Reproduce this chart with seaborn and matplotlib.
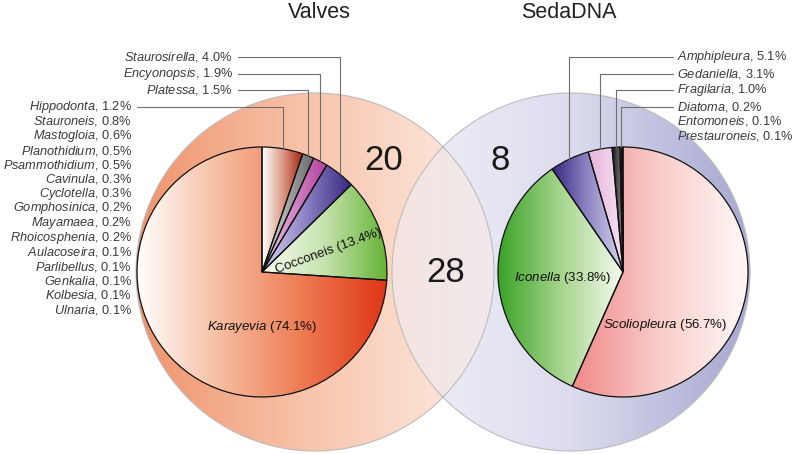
import numpy as np
import matplotlib
matplotlib.use("Agg")
import matplotlib.pyplot as plt
from matplotlib.patches import Circle
import seaborn as sns

# ---- data ----
valves_names = ["Karayevia", "Cocconeis", "Staurosirella", "Encyonopsis", "Platessa", "Hippodonta"]
valves_pct = [74.1, 13.4, 4.0, 1.9, 1.5, 1.2]
minor_names = ["Stauroneis", "Mastogloia", "Planothidium", "Psammothidium", "Cavinula",
               "Cyclotella", "Gomphosinica", "Mayamaea", "Rhoicosphenia", "Aulacoseira",
               "Parlibellus", "Genkalia", "Kolbesia", "Ulnaria"]
minor_pct = [0.8, 0.6, 0.5, 0.5, 0.3, 0.3, 0.2, 0.2, 0.2, 0.1, 0.1, 0.1, 0.1, 0.1]

dna_names = ["Scoliopleura", "Iconella", "Amphipleura", "Gedaniella", "Fragilaria",
             "Diatoma", "Entomoneis", "Prestauroneis"]
dna_pct = [56.7, 33.8, 5.1, 3.1, 1.0, 0.2, 0.1, 0.1]

set_titles = ["Valves", "SedaDNA"]
venn_counts = [20, 28, 8]  # valves only, shared, sedaDNA only

# gradient colours (left -> right) per wedge
valves_grad = [["#ffffff", "#f6bca0", "#ee7a52", "#df3616"],
               ["#f6fbf2", "#c6e3ae", "#66b436"],
               ["#d6d2ee", "#8a80c2", "#37257f"],
               ["#f0cdea", "#b03f9c"],
               ["#e2e2e2", "#686868"],
               ["#ffffff", "#dc9c88", "#a4220e"]]
dna_grad = [["#f08888", "#f9cdca", "#fff8f6"],
            ["#3aa228", "#a6d58c", "#f4faf0"],
            ["#382682", "#8e86c4", "#d8d4ee"],
            ["#e6b2da", "#f6e2f2"],
            ["#141414", "#8a8a8a"],
            ["#ffffff", "#e6e6e6"],
            ["#d8d8d8", "#ffffff"],
            ["#ffffff", "#eeeeee"]]

sns.set_theme(style="white")
plt.rcParams["font.family"] = ["Liberation Sans", "DejaVu Sans"]
plt.rcParams["mathtext.fontset"] = "custom"
plt.rcParams["mathtext.rm"] = "Liberation Sans"
plt.rcParams["mathtext.it"] = "Liberation Sans:italic"

W, H = 796, 454
fig = plt.figure(figsize=(W / 100, H / 100), dpi=100)
ax = fig.add_axes([0, 0, 1, 1])


def gradient_fill(patch, colors, bbox, alpha=1.0, z=1):
    cmap = sns.blend_palette(colors, as_cmap=True)
    x0, y0, x1, y1 = bbox
    img = ax.imshow(np.linspace(0, 1, 256).reshape(1, -1), cmap=cmap,
                    extent=(x0, x1, y0, y1), aspect="auto",
                    interpolation="bilinear", alpha=alpha, zorder=z)
    img.set_clip_path(patch)


def ytop(y):
    return H - y


# ---- venn circles ----
R_BIG = 179
cl = (315, 182)
cr = (571, 182)
circ_l = Circle(cl, R_BIG, facecolor="none", edgecolor="none")
circ_r = Circle(cr, R_BIG, facecolor="none", edgecolor="none")
ax.add_patch(circ_l)
ax.add_patch(circ_r)
bb_l = (cl[0] - R_BIG, cl[1] - R_BIG, cl[0] + R_BIG, cl[1] + R_BIG)
bb_r = (cr[0] - R_BIG, cr[1] - R_BIG, cr[0] + R_BIG, cr[1] + R_BIG)
left_circ_cols = ["#ef936b", "#f8c6ae", "#fdeee6"]
gradient_fill(circ_l, left_circ_cols, bb_l, z=1)
gradient_fill(circ_r, ["#f1f1f9", "#dcdcee", "#a7a7d2"], bb_r, z=2)
gradient_fill(circ_l, left_circ_cols, bb_l, alpha=0.5, z=2.5)
for c in (cl, cr):
    ax.add_patch(Circle(c, R_BIG, facecolor="none", edgecolor="#bcbcbc", lw=0.8, zorder=3))

# ---- pies ----
R_PIE = 125
pc_l = (262, 182)
pc_r = (623, 182)
# Hippodonta is drawn together with the remaining minor genera in one wedge
valves_vals = valves_pct[:-1] + [valves_pct[-1] + sum(minor_pct)]
wedges_v, _ = ax.pie(valves_vals, radius=R_PIE, center=pc_l, startangle=90, counterclock=True,
                     wedgeprops=dict(facecolor="none", edgecolor="#111111", linewidth=0.9, zorder=5))
wedges_d, _ = ax.pie(dna_pct, radius=R_PIE, center=pc_r, startangle=90, counterclock=False,
                     wedgeprops=dict(facecolor="none", edgecolor="#111111", linewidth=0.9, zorder=5))
for w, cols in zip(wedges_v, valves_grad):
    e = w.get_path().get_extents()
    gradient_fill(w, cols, (e.x0, e.y0, e.x1, e.y1), z=4)
for w, cols in zip(wedges_d, dna_grad):
    e = w.get_path().get_extents()
    gradient_fill(w, cols, (e.x0, e.y0, e.x1, e.y1), z=4)


def edge_point(w, center):
    mid = np.deg2rad((w.theta1 + w.theta2) / 2)
    return center[0] + R_PIE * np.cos(mid), center[1] + R_PIE * np.sin(mid)


lab_kw = dict(fontsize=9.2, color="#3a3a3a", va="center", zorder=7)
line_kw = dict(color="#6e6e6e", lw=0.8, zorder=6)

# left labels with leaders (Staurosirella .. Hippodonta)
left_y = [57, 74, 90, 107]
left_x = [233, 233, 233, 132]
for i, (y, x) in enumerate(zip(left_y, left_x)):
    k = i + 2
    ex, ey = edge_point(wedges_v[k], pc_l)
    ax.text(x, ytop(y), rf"$\mathit{{{valves_names[k]}}}$, {valves_pct[k]:.1f}%", ha="right", **lab_kw)
    ax.plot([x + 5, ex, ex], [ytop(y), ytop(y), ey], **line_kw)

# minor genera list
for i, (n, p) in enumerate(zip(minor_names, minor_pct)):
    ax.text(132, ytop(121.5 + 14.5 * i), rf"$\mathit{{{n}}}$, {p:.1f}%", ha="right", **lab_kw)

# right labels
right_y = [57, 74, 90, 107, 121.5, 136]
for i, y in enumerate(right_y):
    k = i + 2
    ax.text(677, ytop(y), rf"$\mathit{{{dna_names[k]}}}$, {dna_pct[k]:.1f}%", ha="left", **lab_kw)
    if k <= 5:
        ex, ey = edge_point(wedges_d[k], pc_r)
        ax.plot([673, ex, ex], [ytop(y), ytop(y), ey], **line_kw)

# labels inside pies
in_kw = dict(fontsize=9.5, color="#111111", ha="center", va="center", zorder=7)
ax.text(262, ytop(327), rf"$\mathit{{{valves_names[0]}}}$ ({valves_pct[0]:.1f}%)", **in_kw)
ax.text(329, ytop(251), f"{valves_names[1]} ({valves_pct[1]:.1f}%)", rotation=20, **in_kw)
ax.text(562, ytop(278), rf"$\mathit{{{dna_names[1]}}}$ ({dna_pct[1]:.1f}%)", **in_kw)
ax.text(665, ytop(325), rf"$\mathit{{{dna_names[0]}}}$ ({dna_pct[0]:.1f}%)", **in_kw)

# titles and venn counts
ax.text(319, ytop(12), set_titles[0], fontsize=15.5, color="#222222", ha="center", va="center")
ax.text(569, ytop(12), set_titles[1], fontsize=15.5, color="#222222", ha="center", va="center")
num_kw = dict(fontsize=25, color="#1a1a1a", ha="center", va="center", zorder=7)
ax.text(384, ytop(161), str(venn_counts[0]), **num_kw)
ax.text(446, ytop(273), str(venn_counts[1]), **num_kw)
ax.text(500, ytop(161), str(venn_counts[2]), **num_kw)

ax.set_xlim(0, W)
ax.set_ylim(0, H)
ax.set_aspect("equal")
ax.axis("off")
fig.savefig("out.png", dpi=100)
